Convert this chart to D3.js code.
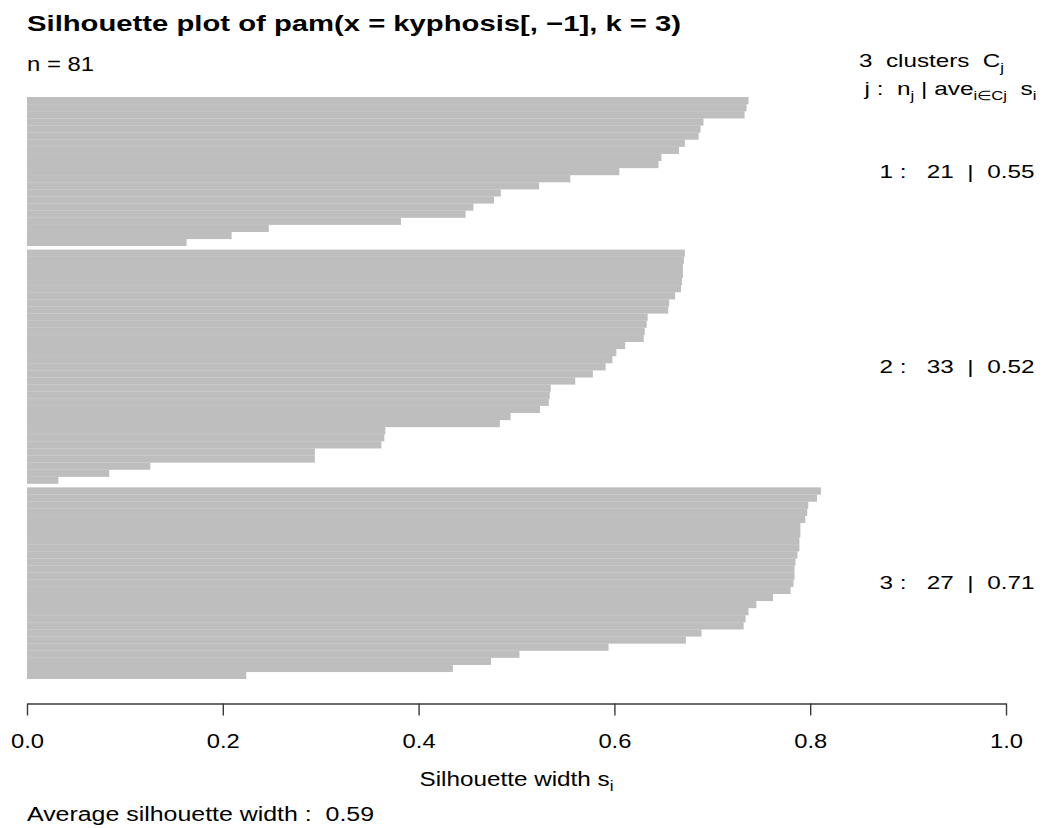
<!DOCTYPE html>
<html>
<head>
<meta charset="utf-8">
<title>Silhouette plot</title>
<script src="https://d3js.org/d3.v7.min.js"></script>
<style>
  body { margin: 0; background: #fff; }
  text { font-family: "Liberation Sans", Arial, Helvetica, sans-serif; fill: #000; }
  .axis path, .axis line { fill: none; stroke: #3a3a3a; stroke-width: 1.4; }
</style>
</head>
<body>
<svg id="main" width="1044" height="828"></svg>
<script>
// silhouette widths per cluster, sorted as in the plot (top to bottom)
var sil1 = [0.737, 0.735, 0.733, 0.691, 0.688, 0.686, 0.672, 0.666, 0.648, 0.645,
            0.605, 0.555, 0.523, 0.484, 0.477, 0.456, 0.448, 0.382, 0.247, 0.209, 0.163];
var sil2 = [0.672, 0.671, 0.670, 0.670, 0.669, 0.668, 0.662, 0.656, 0.655, 0.634,
            0.633, 0.631, 0.630, 0.611, 0.602, 0.598, 0.591, 0.578, 0.560, 0.535,
            0.534, 0.533, 0.524, 0.494, 0.483, 0.366, 0.365, 0.362, 0.294, 0.294,
            0.126, 0.084, 0.032];
var sil3 = [0.811, 0.807, 0.798, 0.797, 0.795, 0.790, 0.790, 0.789, 0.789, 0.787,
            0.785, 0.784, 0.784, 0.783, 0.780, 0.762, 0.745, 0.737, 0.734, 0.732,
            0.689, 0.673, 0.594, 0.503, 0.474, 0.435, 0.224];

var clusterIds = [1, 2, 3];
var clusterSizes = [21, 33, 27];
var clusterAvg = ["0.55", "0.52", "0.71"];
var xTicks = [0, 0.2, 0.4, 0.6, 0.8, 1.0];
var nObs = 81;
var avgWidth = "0.59";

var GAP = 0.5; // space between clusters, in bar units

var svg = d3.select('#main');

// build one row per observation, with its slot position
var rows = [];
var pos = 0;
[sil1, sil2, sil3].forEach(function(vals, c) {
  if (c > 0) pos += GAP;
  vals.forEach(function(v) {
    rows.push({ cluster: c, value: v, pos: pos });
    pos += 1;
  });
});
var total = pos;

var x = d3.scaleLinear().domain([0, 1]).range([27, 1006]);
var y = d3.scaleLinear().domain([0, total]).range([97, 679]);

// bars overlap a hair so the seams stay faint, like the original
svg.append('g').selectAll('rect')
  .data(rows)
  .enter().append('rect')
  .attr('x', x(0))
  .attr('y', function(d) { return y(d.pos); })
  .attr('width', function(d) { return x(d.value) - x(0); })
  .attr('height', function(d, i) {
    var last = (i === rows.length - 1) || rows[i + 1].cluster !== d.cluster;
    return y(1) - y(0) + (last ? 0 : 0.15);
  })
  .attr('fill', '#bebebe');

// x axis
var axis = svg.append('g')
  .attr('class', 'axis')
  .attr('transform', 'translate(0,703.5)')
  .call(d3.axisBottom(x).tickValues(xTicks).tickFormat(d3.format('.1f')).tickSize(12).tickSizeOuter(0));

axis.selectAll('text')
  .attr('y', 44.5)
  .attr('dy', 0)
  .style('font-size', '20px')
  .style('font-family', '"Liberation Sans", Arial, sans-serif')
  .attr('fill', '#000')
  .attr('textLength', 33)
  .attr('lengthAdjust', 'spacingAndGlyphs');

// title and top-left
svg.append('text')
  .attr('x', 27).attr('y', 31)
  .style('font-size', '22.5px').style('font-weight', 'bold')
  .attr('textLength', 654).attr('lengthAdjust', 'spacingAndGlyphs')
  .text('Silhouette plot of pam(x = kyphosis[, \u22121], k = 3)');

svg.append('text')
  .attr('x', 27).attr('y', 71)
  .style('font-size', '20px')
  .attr('textLength', 67).attr('lengthAdjust', 'spacingAndGlyphs')
  .text('n = ' + nObs);

// header on the right
var h1 = svg.append('text')
  .attr('x', 1004).attr('y', 67.3)
  .attr('text-anchor', 'end')
  .style('font-size', '19px')
  .attr('xml:space', 'preserve')
  .attr('textLength', 145).attr('lengthAdjust', 'spacingAndGlyphs');
h1.append('tspan').text(clusterIds.length + '  clusters  C');
h1.append('tspan').attr('dy', 5).style('font-size', '13px').text('j');

var h2 = svg.append('text')
  .attr('x', 864.5).attr('y', 95)
  .style('font-size', '19px')
  .attr('xml:space', 'preserve')
  .attr('textLength', 172).attr('lengthAdjust', 'spacingAndGlyphs');
h2.append('tspan').text('j :  n');
h2.append('tspan').attr('dy', 5).style('font-size', '13px').text('j');
h2.append('tspan').attr('dy', -5).text(' | ave');
h2.append('tspan').attr('dy', 5).style('font-size', '13px').text('i\u2208Cj');
h2.append('tspan').attr('dy', -5).text('  s');
h2.append('tspan').attr('dy', 5).style('font-size', '13px').text('i');

// cluster labels, centred on each cluster block
clusterIds.forEach(function(id, c) {
  var members = rows.filter(function(r) { return r.cluster === c; });
  var top = y(members[0].pos);
  var bot = y(members[members.length - 1].pos + 1);
  svg.append('text')
    .attr('x', 1034.5)
    .attr('y', (top + bot) / 2 + 6)
    .attr('text-anchor', 'end')
    .attr('xml:space', 'preserve')
    .style('font-size', '19px')
    .attr('textLength', 155).attr('lengthAdjust', 'spacingAndGlyphs')
    .text(id + ' :   ' + clusterSizes[c] + '  |  ' + clusterAvg[c]);
});

// axis title
var xt = svg.append('text')
  .attr('x', 516.5).attr('y', 786)
  .attr('text-anchor', 'middle')
  .style('font-size', '20px')
  .attr('textLength', 194).attr('lengthAdjust', 'spacingAndGlyphs');
xt.append('tspan').text('Silhouette width s');
xt.append('tspan').attr('dy', 5).style('font-size', '14px').text('i');

svg.append('text')
  .attr('x', 27).attr('y', 820.7)
  .attr('xml:space', 'preserve')
  .style('font-size', '20px')
  .attr('textLength', 347).attr('lengthAdjust', 'spacingAndGlyphs')
  .text('Average silhouette width :  ' + avgWidth);
</script>
</body>
</html>
